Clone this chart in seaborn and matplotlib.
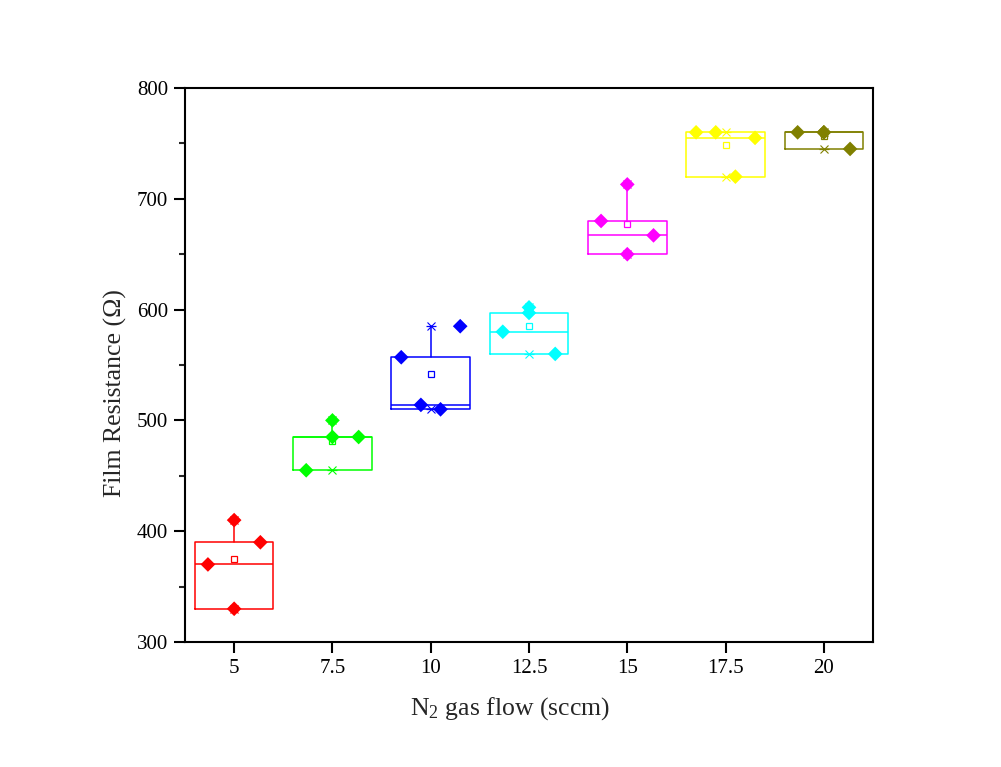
import numpy as np
import pandas as pd
import matplotlib
matplotlib.use("Agg")
import matplotlib.pyplot as plt
from matplotlib.ticker import MultipleLocator
import seaborn as sns

# ---- data ----
flows = [5, 7.5, 10, 12.5, 15, 17.5, 20]
tick_labels = ["5", "7.5", "10", "12.5", "15", "17.5", "20"]
colors = ["#FF0000", "#00FF00", "#0000FF", "#00FFFF", "#FF00FF", "#FFFF00", "#808000"]

res_5 = [370, 410, 330, 390]
res_7_5 = [455, 500, 485, 485]
res_10 = [557, 514, 510, 585]
res_12_5 = [580, 602, 597, 560]
res_15 = [680, 713, 650, 667]
res_17_5 = [760, 760, 720, 755]
res_20 = [760, 760, 760, 745]

# horizontal spread of the overlaid points (as arranged in the reference)
jitter_5 = [-0.667, 0, 0, 0.667]
jitter_7_5 = [-0.667, 0, 0, 0.667]
jitter_10 = [-0.75, -0.25, 0.25, 0.75]
jitter_12_5 = [-0.667, 0, 0, 0.667]
jitter_15 = [-0.667, 0, 0, 0.667]
jitter_17_5 = [-0.75, -0.25, 0.25, 0.75]
jitter_20 = [-0.667, 0, 0, 0.667]

groups = [res_5, res_7_5, res_10, res_12_5, res_15, res_17_5, res_20]
jitters = [jitter_5, jitter_7_5, jitter_10, jitter_12_5, jitter_15, jitter_17_5, jitter_20]

# ---- style ----
sns.set_style("ticks")
plt.rcParams["font.family"] = ["Liberation Serif", "DejaVu Serif"]
plt.rcParams["mathtext.fontset"] = "custom"
plt.rcParams["mathtext.rm"] = "Liberation Serif"
plt.rcParams["mathtext.it"] = "Liberation Serif:italic"

rows = []
for f, vals, jit in zip(flows, groups, jitters):
    for v, j in zip(vals, jit):
        rows.append({"flow": f, "xpos": f + j, "resistance": v, "group": str(f)})
df = pd.DataFrame(rows)

fig = plt.figure(figsize=(10.01, 7.67), dpi=100)
fig.patch.set_facecolor("white")
ax = fig.add_axes([185 / 1001, 1 - 642 / 767, 688 / 1001, 554 / 767])

# ---- boxes (Origin-like quartiles) ----
for f, vals, c in zip(flows, groups, colors):
    arr = np.array(vals, dtype=float)
    q1, med, q3 = np.quantile(arr, [0.25, 0.5, 0.75], method="lower")
    stats = [{
        "med": med, "q1": q1, "q3": q3,
        "whislo": arr.min(), "whishi": arr.max(),
        "mean": arr.mean(), "fliers": [],
    }]
    ax.bxp(stats, positions=[f], widths=2.0, showmeans=True, showcaps=False,
           showfliers=False, manage_ticks=False,
           boxprops=dict(color=c, linewidth=1.1),
           whiskerprops=dict(color=c, linewidth=1.1),
           medianprops=dict(color=c, linewidth=1.1),
           meanprops=dict(marker="s", markerfacecolor="none", markeredgecolor=c,
                          markersize=4.5, markeredgewidth=0.9),
           zorder=2)
    ax.plot([f, f], [arr.min(), arr.max()], linestyle="none", marker="x",
            color=c, markersize=6, markeredgewidth=0.8, zorder=2)
    ax.plot([f, f], [arr.min(), arr.max()], linestyle="none", marker="_",
            color=c, markersize=7, markeredgewidth=0.9, zorder=2)

# ---- data points ----
sns.scatterplot(data=df, x="xpos", y="resistance", hue="group",
                palette=dict(zip([str(f) for f in flows], colors)),
                marker="D", s=56, linewidth=0, legend=False, ax=ax, zorder=3)

# ---- axes ----
ax.set_xlim(3.75, 21.25)
ax.set_ylim(300, 800)
ax.set_xticks(flows)
ax.set_xticklabels(tick_labels)
ax.yaxis.set_major_locator(MultipleLocator(100))
ax.yaxis.set_minor_locator(MultipleLocator(50))
ax.tick_params(axis="both", which="major", direction="out", length=8, width=1.5,
               labelsize=15, pad=4, colors="black")
ax.tick_params(axis="y", which="minor", direction="out", length=4.5, width=1.5)
ax.tick_params(top=False, right=False)
for sp in ax.spines.values():
    sp.set_visible(True)
    sp.set_linewidth(1.5)
    sp.set_color("black")

ax.set_xlabel(r"N$_2$ gas flow (sccm)", fontsize=18.5)
ax.set_ylabel("Film Resistance (Ω)", fontsize=18.5)
ax.xaxis.set_label_coords(0.472, -0.096)
ax.yaxis.set_label_coords(-0.084, 0.45)

fig.savefig("out.png", dpi=100, facecolor="white")
